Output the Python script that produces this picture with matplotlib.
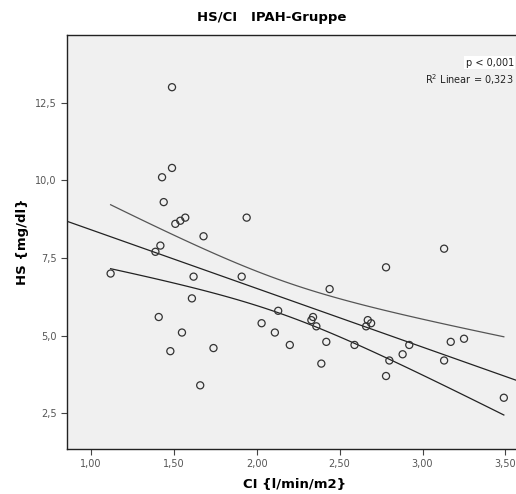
import numpy as np
import matplotlib
matplotlib.use("Agg")
import matplotlib.pyplot as plt

# CI (l/min/m2) and HS (mg/dl)
ci = [1.12, 1.44, 1.51, 1.54, 1.57, 1.94, 1.68, 1.42, 1.39, 1.62, 1.91,
      1.61, 1.41, 1.55, 1.48, 1.74, 1.66, 2.03, 2.11, 2.13, 2.20, 2.44,
      2.33, 2.34, 2.36, 2.42, 2.39, 2.59, 2.66, 2.67, 2.69, 2.78, 2.78,
      2.80, 2.88, 2.92, 3.13, 3.13, 3.17, 3.25, 3.49, 1.49, 1.49, 1.43]
hs = [7.0, 9.3, 8.6, 8.7, 8.8, 8.8, 8.2, 7.9, 7.7, 6.9, 6.9,
      6.2, 5.6, 5.1, 4.5, 4.6, 3.4, 5.4, 5.1, 5.8, 4.7, 6.5,
      5.5, 5.6, 5.3, 4.8, 4.1, 4.7, 5.3, 5.5, 5.4, 7.2, 3.7,
      4.2, 4.4, 4.7, 7.8, 4.2, 4.8, 4.9, 3.0, 13.0, 10.4, 10.1]

x_ticks = [1.0, 1.5, 2.0, 2.5, 3.0, 3.5]
y_ticks = [2.5, 5.0, 7.5, 10.0, 12.5]

x = np.array(ci)
y = np.array(hs)
n = len(x)

# linear fit + 95% band for the mean
slope, icpt = np.polyfit(x, y, 1)
resid = y - (icpt + slope * x)
s = np.sqrt(np.sum(resid ** 2) / (n - 2))
sxx = np.sum((x - x.mean()) ** 2)
t = 2.018

fig = plt.figure(figsize=(5.16, 4.94), dpi=100)
ax = fig.add_axes([0.1298, 0.0911, 0.882, 0.838])
ax.set_facecolor("#f0f0f0")

xl = (0.857, 3.6)
xf = np.linspace(xl[0], xl[1], 50)
ax.plot(xf, icpt + slope * xf, color="#222222", lw=0.9)

xb = np.linspace(x.min(), x.max(), 60)
half = t * s * np.sqrt(1.0 / n + (xb - x.mean()) ** 2 / sxx)
ax.plot(xb, icpt + slope * xb + half, color="#555555", lw=0.9)
ax.plot(xb, icpt + slope * xb - half, color="#222222", lw=0.9)

ax.scatter(x, y, s=26, facecolors="none", edgecolors="#333333", linewidths=0.9, zorder=3)

ax.set_xlim(*xl)
ax.set_ylim(1.35, 14.68)
ax.set_xticks(x_ticks)
ax.set_xticklabels([f"{v:.2f}".replace(".", ",") for v in x_ticks])
ax.set_yticks(y_ticks)
ax.set_yticklabels([f"{v:.1f}".replace(".", ",") for v in y_ticks])
ax.tick_params(direction="out", length=4, width=0.8, color="#444444",
               labelsize=7, labelcolor="#555555")
for sp in ax.spines.values():
    sp.set_color("#222222")
    sp.set_linewidth(1.0)

ax.text(3.55, 13.79, "p < 0,001", ha="right", va="center", fontsize=7,
        color="#222222", bbox=dict(facecolor="white", edgecolor="none", pad=1))
ax.text(3.55, 13.26, "R$^2$ Linear = 0,323", ha="right", va="center",
        fontsize=7, color="#222222")

ax.set_xlabel("CI {l/min/m2}", fontsize=9.5, fontweight="bold", labelpad=6)
ax.set_ylabel("HS {mg/dl}", fontsize=9.5, fontweight="bold", labelpad=4)
fig.text(0.527, 0.964, "HS/CI   IPAH-Gruppe", ha="center", va="center",
         fontsize=9.5, fontweight="bold")

fig.savefig("out.png", dpi=100)
